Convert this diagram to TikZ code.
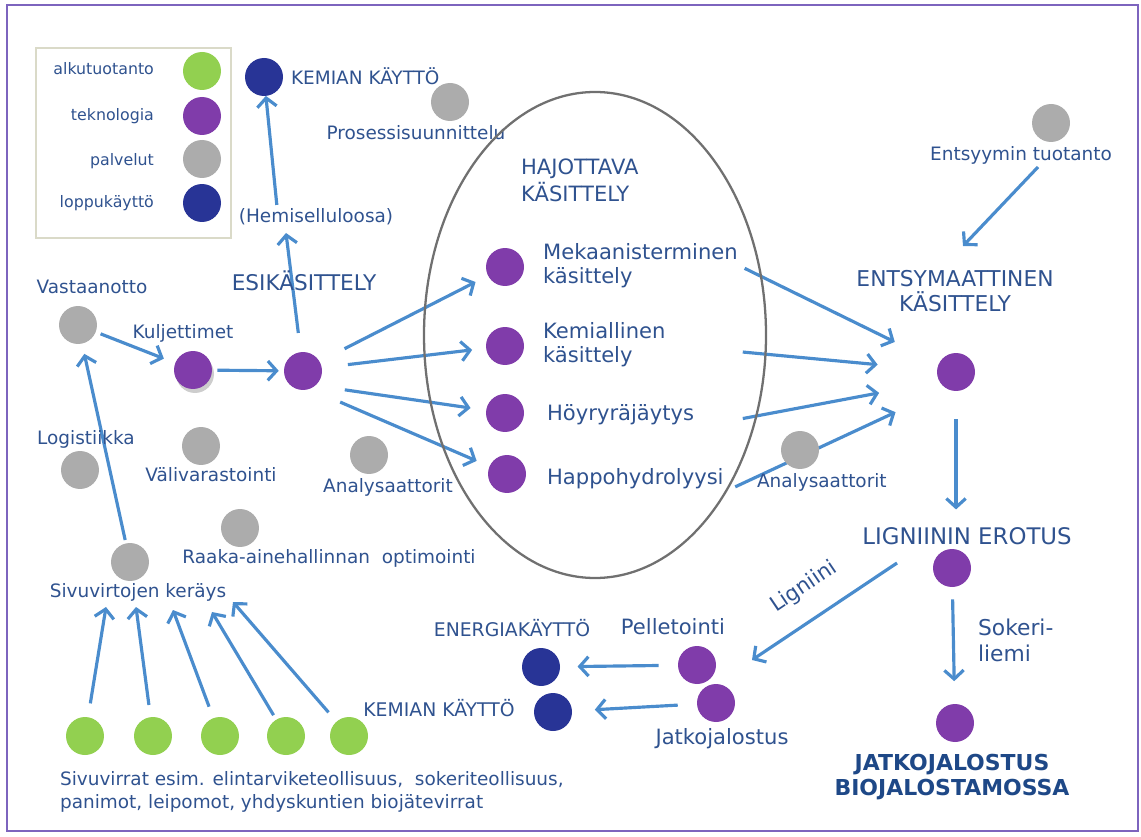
\documentclass[tikz,border=0pt]{standalone}
\usepackage{fontspec}
\setmainfont{DejaVu Sans}
\usetikzlibrary{arrows.meta,positioning}
\definecolor{bgtext}{RGB}{47,82,143}
\definecolor{bgdeep}{RGB}{30,72,135}
\definecolor{bgarrow}{RGB}{74,140,205}
\definecolor{bggreen}{RGB}{146,208,80}
\definecolor{bgpurple}{RGB}{128,60,170}
\definecolor{bggray}{RGB}{172,172,172}
\definecolor{bgnavy}{RGB}{40,52,150}
\definecolor{bgframe}{RGB}{125,100,190}
\definecolor{bgrim}{RGB}{112,112,112}
\definecolor{bglegend}{RGB}{218,218,200}
\pgfdeclarelayer{back}
\pgfsetlayers{back,main}

\begin{document}
\begin{tikzpicture}[x=0.02cm, y=-0.02cm,
    dot/.style={circle, minimum size=0.76cm, inner sep=0pt, outer sep=0pt},
    prim/.style={dot, fill=bggreen},
    tech/.style={dot, fill=bgpurple},
    serv/.style={dot, fill=bggray},
    enduse/.style={dot, fill=bgnavy},
    lbl/.style={text=bgtext, inner sep=1pt, font=\fontsize{10.5}{13}\selectfont},
    legtxt/.style={lbl, anchor=east, font=\fontsize{9}{11}\selectfont},
    mid/.style={lbl, font=\fontsize{12}{13.8}\selectfont},
    arr/.style={-{Straight Barb[length=5pt,width=11pt]}, line width=1.8pt, bgarrow}
  ]
    \useasboundingbox (0,0) rectangle (1141,837);
    \draw[bgframe, line width=1.1pt] (7,5) rectangle (1138,831);

    % Legend
    \draw[bglegend, fill=white, line width=0.8pt] (36,48) rectangle (231,238);
    \node[prim] (lg1) at (202,71) {};
    \node[tech] (lg2) at (202,116) {};
    \node[serv] (lg3) at (202,159) {};
    \node[enduse] (lg4) at (202,203) {};
    \node[legtxt] (lgt1) at (156,69) {alkutuotanto};
    \node[legtxt] (lgt2) at (156,116) {teknologia};
    \node[legtxt] (lgt3) at (156,161) {palvelut};
    \node[legtxt] (lgt4) at (156,203) {loppukäyttö};

    % Top: hemiselluloosa branch
    \node[enduse] (kemtop) at (264,77) {};
    \node[lbl, anchor=west] (kemtoptxt) at (289,76) {KEMIAN KÄYTTÖ};
    \node[lbl] (hemi) at (316,217) {(Hemiselluloosa)};
    \node[serv] (proses) at (450,102) {};
    \node[lbl] (prosestxt) at (416,133) {Prosessisuunnittelu};

    % Hajottava kasittely
    \draw[bgrim, line width=1.3pt] (595,335) ellipse [x radius=171, y radius=243];
    \node[mid, anchor=west, align=left, font=\fontsize{12}{15.4}\selectfont] (hajo) at (519,180) {HAJOTTAVA\\KÄSITTELY};
    \node[tech] (mek) at (505,267) {};
    \node[tech] (kem) at (505,346) {};
    \node[tech] (hoy) at (505,413) {};
    \node[tech] (hap) at (507,474) {};
    \node[mid, anchor=west, align=left] (mektxt) at (541,266) {Mekaanisterminen\\käsittely};
    \node[mid, anchor=west, align=left] (kemtxt) at (541,345) {Kemiallinen\\käsittely};
    \node[mid, anchor=west] (hoytxt) at (545,415) {Höyryräjäytys};
    \node[mid, anchor=west] (haptxt) at (545,479) {Happohydrolyysi};

    % Left: raaka-aine
    \node[lbl] (vasttxt) at (92,287) {Vastaanotto};
    \node[serv] (vast) at (78,325) {};
    \node[lbl] (kuljtxt) at (183,333) {Kuljettimet};
    \node[dot, fill=bggray!60] (kuljsh) at (195,374) {};
    \node[tech] (kulj) at (193,370) {};
    \node[mid, font=\fontsize{12.3}{14}\selectfont] (esitxt) at (304,281) {ESIKÄSITTELY};
    \node[tech] (esi) at (303,371) {};
    \node[lbl] (logtxt) at (86,439) {Logistiikka};
    \node[serv] (log) at (80,470) {};
    \node[serv] (vali) at (201,446) {};
    \node[lbl] (valitxt) at (211,475) {Välivarastointi};
    \node[serv] (analy1) at (369,455) {};
    \node[lbl] (analy1txt) at (388,487) {Analysaattorit};
    \node[serv] (raaka) at (240,528) {};
    \node[lbl] (raakatxt) at (329,558) {Raaka-ainehallinnan\ \ optimointi};
    \node[serv] (sivuk) at (130,562) {};
    \node[lbl] (sivuktxt) at (138,592) {Sivuvirtojen keräys};
    \node[lbl, anchor=west, align=left] (sivutxt) at (58,792) {Sivuvirrat esim. elintarviketeollisuus,\ \ sokeriteollisuus,\\panimot, leipomot, yhdyskuntien biojätevirrat};

    % Right: entsymaattinen
    \node[serv] (enzp) at (1051,123) {};
    \node[lbl] (enzptxt) at (1021,155) {Entsyymin tuotanto};
    \node[mid, align=center, font=\fontsize{12.4}{14.2}\selectfont] (enzhead) at (955,291) {ENTSYMAATTINEN\\KÄSITTELY};
    \node[tech] (entsy) at (956,372) {};
    \node[serv] (analy2) at (800,450) {};
    \node[lbl, anchor=west] (analy2txt) at (755,482) {Analysaattorit};
    \node[mid, font=\fontsize{13}{15}\selectfont] (lignhead) at (967,536) {LIGNIININ EROTUS};
    \node[tech] (lign) at (952,568) {};
    \node[mid, anchor=west, align=left, font=\fontsize{12.4}{14.8}\selectfont] (sokeri) at (976,640) {Sokeri-\\liemi};
    \node[tech] (final) at (955,723) {};
    \node[align=center, text=bgdeep, font=\fontsize{12.5}{14.2}\bfseries] (finaltxt) at (952,777) {JATKOJALOSTUS\\BIOJALOSTAMOSSA};

    % Bottom: lignin use
    \node[mid, rotate=34] (ligtxt) at (804,587) {Ligniini};
    \node[lbl, font=\fontsize{10.7}{13}\selectfont] (energtxt) at (512,628) {ENERGIAKÄYTTÖ};
    \node[enduse] (energ) at (541,667) {};
    \node[lbl, font=\fontsize{10.7}{13}\selectfont] (kembottxt) at (439,708) {KEMIAN KÄYTTÖ};
    \node[enduse] (kembot) at (553,712) {};
    \node[mid] (pelltxt) at (673,627) {Pelletointi};
    \node[tech] (pell) at (697,665) {};
    \node[tech] (jatko) at (716,703) {};
    \node[mid] (jatkotxt) at (722,739) {Jatkojalostus};

    \coordinate (hemiin) at (286,233);
    \coordinate (enzout) at (1038,167);
    \coordinate (enzin) at (963,246);
    \coordinate (ligout) at (897,563);
    \coordinate (ligin) at (752,660);

    \begin{pgfonlayer}{back}
    % Arrows
    \draw[arr, shorten <=1pt] (hemi.north -| 277,0) -- (kemtop);
    \draw[arr, shorten <=3pt, shorten >=7pt] (vast) -- (kulj);
    \draw[arr, shorten <=3pt, shorten >=3pt] (kulj) -- (esi);
    \draw[arr, shorten <=11pt] (esi) -- (hemiin);
    \draw[arr, shorten <=16pt, shorten >=8pt] (esi.30) -- (mek);
    \draw[arr, shorten <=15pt, shorten >=8pt] (esi.10) -- (kem);
    \draw[arr, shorten <=17pt, shorten >=9pt] (esi.-50) -- (hoy);
    \draw[arr, shorten <=19pt, shorten >=8pt] (esi.-70) -- (hap);
    \draw[arr, shorten <=3pt, shorten >=28pt] (mektxt.east) -- (entsy);
    \draw[arr, shorten <=43pt, shorten >=34pt] (kemtxt.east) -- (entsy);
    \draw[arr, shorten <=27pt, shorten >=35pt] (hoytxt.south east) -- (entsy.-150);
    \draw[arr, shorten <=6pt, shorten >=32pt] (haptxt.south east) -- (entsy.-120);
    \draw[arr] (enzout) -- (enzin);
    \draw[arr, shorten <=16pt, shorten >=9pt] (entsy) -- (entsy |- lignhead.north);
    \draw[arr, shorten <=7pt, shorten >=13pt] (lign) -- (final);
    \draw[arr] (ligout) -- (ligin);
    \draw[arr, shorten <=11pt, shorten >=10pt] (pell) -- (energ);
    \draw[arr, shorten <=11pt, shorten >=13pt] (jatko) -- (kembot);
    \draw[arr, shorten <=2pt, shorten >=6pt] (sivuk) -- (vast);
    \foreach \i/\gx/\kx/\ky/\gap in {1/85/106/607/8, 2/153/136/607/7, 3/220/173/610/7, 4/286/212/612/3, 5/349/233/602/7} {
      \node[prim] (g\i) at (\gx,736) {};
      \coordinate (k\i) at (\kx,\ky);
      \draw[arr, shorten <=\gap pt] (g\i) -- (k\i);
    }
    \end{pgfonlayer}
  \end{tikzpicture}
\end{document}
